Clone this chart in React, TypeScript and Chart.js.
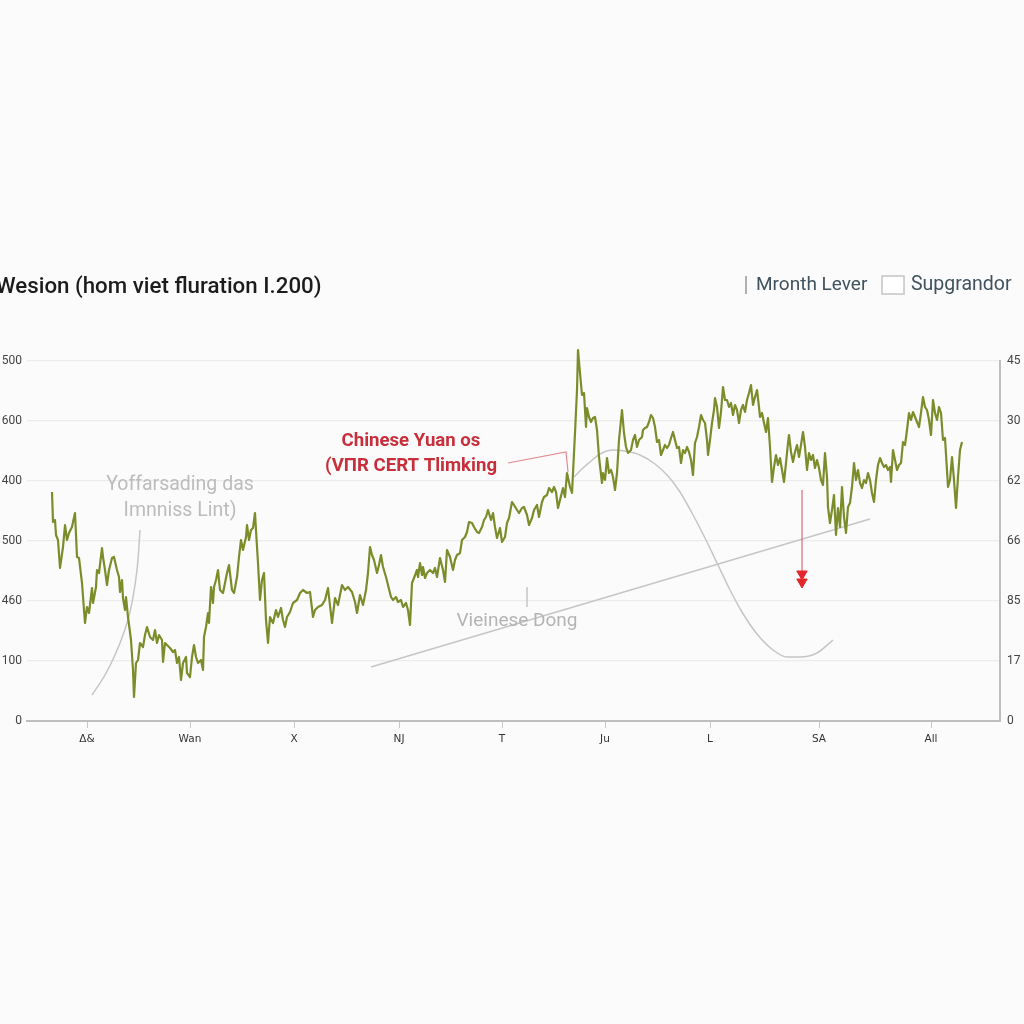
import React, { useEffect, useRef } from "react";
import { Chart, registerables } from "chart.js";

Chart.register(...registerables);

// ---- data (day index along the x axis, rate on the left scale) ----
const days = [
  0, 1, 3, 4, 6, 8, 11, 13, 15, 17, 20, 21, 23, 25, 27, 30, 32, 33, 35, 37,
  40, 41, 44, 45, 47, 50, 51, 53, 55, 57, 60, 62, 65, 67, 68, 70, 71, 73, 74, 76,
  79, 81, 82, 84, 86, 88, 91, 93, 95, 98, 101, 103, 105, 107, 110, 111, 113, 115, 118, 121,
  123, 125, 127, 129, 131, 134, 135, 138, 140, 142, 144, 146, 149, 151, 152, 154, 156, 157, 159, 161,
  162, 164, 166, 168, 171, 173, 175, 177, 180, 182, 185, 187, 189, 191, 194, 195, 197, 199, 201, 203,
  205, 206, 208, 210, 212, 214, 216,
  218, 221, 224, 226, 229, 231, 233, 235, 238, 241, 245, 248, 251, 255, 258, 261, 263, 266, 270, 273,
  276, 280, 283, 286, 290, 293, 296, 300, 303, 305, 308, 311, 314, 316, 318, 320, 322, 325, 327, 329,
  331, 334, 336, 339, 341, 344, 346, 349, 351, 354, 356, 358, 360, 362, 365, 366, 368, 370, 371, 373,
  375, 378, 381, 383, 385, 388, 391, 393, 395, 398, 401, 403, 405, 408, 410, 413, 415, 417, 420, 422,
  425, 427, 430, 432, 434, 436, 439, 441, 443, 445, 448, 450, 453, 455, 457, 460, 462, 465, 467, 470,
  472, 475, 477, 480, 482, 485, 487, 490, 492, 495, 497, 500, 502, 504, 506, 508, 511, 513,
  515, 518, 520, 523, 525, 526, 528, 530, 532, 534, 535, 537, 539, 541, 543, 545, 547, 550, 551, 553,
  555, 557, 559, 561, 563, 565, 567, 570, 572, 574, 576, 579, 581, 583, 585, 587, 590, 591, 593, 595,
  597, 599, 601, 603, 605, 607, 609, 611, 613, 615, 617, 619, 621, 623, 625, 627, 629, 631, 633, 635,
  637, 639, 641, 643, 645, 647, 649, 651, 653, 655, 656, 658, 660, 662, 663, 665, 667, 669, 671, 673,
  675, 677, 679, 681, 683, 685, 687, 689, 691, 693, 695, 697, 699, 701, 703, 705, 707,
  708, 710, 712, 714, 716, 718, 720, 722, 724, 726, 728, 730, 732, 734, 736, 737, 739, 741, 743, 745,
  747, 749, 751, 753, 755, 757, 759, 761, 763, 765, 767, 769, 771, 773, 775, 776, 778, 780, 782, 784,
  786, 788, 790, 792, 794, 796, 798, 800, 802, 804, 806, 808, 810, 812, 814, 816, 818, 820, 822, 824,
  826, 828, 830, 832, 834, 836, 838, 839, 841, 843, 845, 847, 849, 851, 853, 855, 857, 859, 861, 863,
  865, 867, 869, 871, 873, 875, 877, 879, 881, 883, 885, 887, 889, 891, 893, 896, 898, 900, 902, 904,
  906, 908, 910,
];

const rates = [
  229, 199, 201, 186, 181, 153, 174, 196, 181, 188, 194, 199, 208, 164, 163, 138, 111, 98, 114, 108,
  133, 118, 134, 151, 148, 173, 164, 151, 136, 151, 163, 164, 151, 144, 129, 141, 123, 111, 124, 104,
  81, 51, 24, 58, 61, 78, 74, 86, 94, 84, 81, 91, 78, 86, 81, 59, 78, 76, 73, 69,
  71, 58, 64, 41, 58, 64, 48, 44, 64, 76, 64, 58, 61, 51, 84, 94, 108, 98, 134, 118,
  134, 141, 151, 131, 128, 138, 148, 156, 131, 128, 144, 164, 181, 171, 184, 196, 181, 191, 193, 208,
  174, 158, 121, 141, 148, 101, 78,
  104, 98, 111, 104, 113, 101, 94, 104, 109, 118, 121, 128, 131, 128, 129, 104, 111, 114, 116, 121,
  133, 98, 123, 116, 136, 131, 134, 129, 119, 108, 126, 116, 131, 148, 174, 166, 161, 148, 156, 166,
  154, 144, 136, 124, 121, 124, 119, 121, 114, 118, 111, 96, 138, 143, 151, 144, 158, 146, 154, 143,
  148, 151, 148, 153, 144, 163, 151, 139, 171, 164, 151, 161, 166, 168, 181, 184, 189, 199, 198, 194,
  189, 188, 194, 201, 204, 211, 201, 208, 194, 183, 193, 179, 184, 198, 203, 219, 216, 211, 208, 213,
  214, 206, 196, 203, 211, 216, 204, 219, 224, 226, 233, 229, 234, 229, 213, 221, 233, 224,
  248, 234, 228, 288, 331, 371, 348, 326, 328, 294, 313, 304, 299, 303, 304, 291, 264, 238, 248, 241,
  263, 248, 251, 244, 231, 248, 281, 311, 288, 274, 268, 271, 281, 286, 274, 281, 284, 291, 293, 294,
  299, 306, 303, 294, 279, 281, 266, 271, 276, 273, 276, 283, 289, 281, 273, 274, 258, 271, 268, 274,
  269, 261, 246, 278, 284, 294, 306, 301, 298, 281, 266, 281, 298, 311, 323, 314, 293, 309, 334, 321,
  321, 314, 318, 306, 316, 311, 298, 311, 316, 309, 321, 328, 336, 316, 324, 331, 314,
  304, 308, 298, 289, 303, 274, 239, 254, 266, 256, 263, 251, 239, 258, 278, 286, 269, 259, 269, 276,
  264, 276, 289, 274, 251, 268, 261, 266, 253, 261, 253, 241, 236, 268, 244, 214, 198, 211, 226, 186,
  213, 194, 234, 204, 188, 214, 218, 234, 258, 241, 251, 238, 233, 241, 238, 248, 241, 228, 219, 241,
  256, 263, 258, 254, 256, 251, 254, 239, 271, 261, 251, 256, 258, 279, 276, 291, 308, 301, 309, 304,
  299, 294, 308, 324, 314, 311, 301, 286, 321, 308, 301, 314, 308, 281, 283, 234, 241, 264, 241, 213,
  244, 271, 279,
];

const xTickDays = [35, 138, 242, 347, 450, 553, 658, 767, 879];
const xTickLabels = ["Δ&", "Wan", "X", "NJ", "T", "Ju", "L", "SA", "All"];
const leftTickLabels = ["0", "100", "460", "500", "400", "600", "500"];
const rightTickLabels = ["0", "17", "85", "66", "62", "30", "45"];

const trendDays = [319, 818];
const trendValues = [54, 202];
const leftCurveDays = [40, 53, 63, 71, 78, 83, 86, 88];
const leftCurveValues = [26, 46, 66, 86, 109, 136, 161, 191];
const waveDays = [522, 531, 538, 548, 561, 573, 588, 603, 616, 628, 640, 653, 666, 678, 690, 705, 721, 735, 748, 765, 781];
const waveValues = [244, 253, 259, 267, 271, 270, 266, 257, 245, 229, 208, 183, 156, 131, 109, 87, 71, 64, 64, 68, 81];
const connectorDays = [456, 514, 516];
const connectorValues = [258, 269, 249];
const arrowDays = [750, 750];
const arrowValues = [231, 147];
const arrowHeadDays = [750, 750];
const arrowHeadValues = [147, 139];
const dongTickDays = [475, 475];
const dongTickValues = [134, 114];

const titleText = "Wesion (hom viet fluration I.200)";
const legendLabels = ["Mronth Lever", "Supgrandor"];
const noteRed = ["Chinese Yuan os", "(VΠR CERT Tlimking"];
const noteGrey = ["Yoffarsading das", "Imnniss Lint)"];
const noteDong = ["Vieinese Dong"];

const pts = (xs: number[], ys: number[]) => xs.map((x, i) => ({ x, y: ys[i] }));

const decorPlugin = {
  id: "decor",
  beforeDraw(chart: any) {
    const { ctx, width, height } = chart;
    ctx.save();
    ctx.fillStyle = "#fbfbfb";
    ctx.fillRect(0, 0, width, height);
    ctx.restore();
  },
  afterDatasetsDraw(chart: any) {
    const { ctx } = chart;
    const xs = chart.scales.x;
    const ys = chart.scales.y;
    const drawNote = (lines: string[], day: number, val: number, font: string, color: string, gap: number) => {
      const cx = xs.getPixelForValue(day);
      const cy = ys.getPixelForValue(val);
      ctx.save();
      ctx.font = font;
      ctx.fillStyle = color;
      ctx.textAlign = "center";
      ctx.textBaseline = "middle";
      lines.forEach((l, i) => ctx.fillText(l, cx, cy + i * gap));
      ctx.restore();
    };
    drawNote(noteRed, 359, 280, "bold 18.6px Roboto", "#c72f3b", 25);
    drawNote(noteGrey, 128, 236, "19.5px Roboto", "#bcbcbc", 26);
    drawNote(noteDong, 465, 100, "19px Roboto", "#b4b4b4", 24);
  },
  afterDraw(chart: any) {
    const { ctx } = chart;
    ctx.save();
    // title
    ctx.font = "500 22.3px Roboto";
    ctx.fillStyle = "#1c1c1c";
    ctx.textBaseline = "middle";
    ctx.textAlign = "left";
    ctx.fillText(titleText, -4, 287);
    // legend
    ctx.strokeStyle = "#b0b0b0";
    ctx.lineWidth = 2;
    ctx.beginPath();
    ctx.moveTo(746, 276);
    ctx.lineTo(746, 294);
    ctx.stroke();
    ctx.font = "19px Roboto";
    ctx.fillStyle = "#41535f";
    ctx.fillText(legendLabels[0], 756, 285);
    ctx.fillStyle = "#ffffff";
    ctx.fillRect(882, 276, 22, 18);
    ctx.strokeStyle = "#c4c4c4";
    ctx.lineWidth = 1.5;
    ctx.strokeRect(882, 276, 22, 18);
    ctx.fillStyle = "#41535f";
    ctx.font = "19.5px Roboto";
    ctx.fillText(legendLabels[1], 911, 285);
    ctx.restore();
  },
};

export default function App() {
  const ref = useRef<HTMLCanvasElement | null>(null);

  useEffect(() => {
    if (!ref.current) return;
    const grey = "#c6c6c6";
    const chart = new Chart(ref.current, {
      type: "line",
      data: {
        datasets: [
          {
            label: "rate",
            data: pts(days, rates),
            borderColor: "#7b8d2a",
            borderWidth: 2.2,
            pointRadius: 0,
            tension: 0,
            borderJoinStyle: "round",
            clip: false,
          },
          {
            label: "arrowHead",
            data: pts(arrowHeadDays, arrowHeadValues),
            showLine: false,
            pointStyle: "triangle",
            rotation: 180,
            pointRadius: 6,
            backgroundColor: "#e2262b",
            borderColor: "#e2262b",
            borderWidth: 1,
          },
          {
            label: "arrow",
            data: pts(arrowDays, arrowValues),
            borderColor: "#e06c72",
            borderWidth: 1.2,
            pointRadius: 0,
          },
          {
            label: "connector",
            data: pts(connectorDays, connectorValues),
            borderColor: "#e48a90",
            borderWidth: 1.2,
            pointRadius: 0,
          },
          {
            label: "dongTick",
            data: pts(dongTickDays, dongTickValues),
            borderColor: grey,
            borderWidth: 1.5,
            pointRadius: 0,
          },
          {
            label: "wave",
            data: pts(waveDays, waveValues),
            borderColor: grey,
            borderWidth: 1.5,
            pointRadius: 0,
            cubicInterpolationMode: "monotone",
          },
          {
            label: "leftCurve",
            data: pts(leftCurveDays, leftCurveValues),
            borderColor: grey,
            borderWidth: 1.5,
            pointRadius: 0,
            cubicInterpolationMode: "monotone",
          },
          {
            label: "trend",
            data: pts(trendDays, trendValues),
            borderColor: grey,
            borderWidth: 1.5,
            pointRadius: 0,
          },
        ],
      },
      options: {
        responsive: false,
        maintainAspectRatio: false,
        animation: false,
        devicePixelRatio: 1,
        layout: { padding: { top: 361, left: 0, right: 0, bottom: 0 } },
        plugins: {
          legend: { display: false },
          title: { display: false },
          tooltip: { enabled: false },
        },
        scales: {
          x: {
            type: "linear",
            min: -25,
            max: 948,
            afterFit: (s: any) => {
              s.height = 303;
            },
            afterBuildTicks: (s: any) => {
              s.ticks = xTickDays.map((v) => ({ value: v }));
            },
            ticks: {
              callback: (_v: any, i: number) => xTickLabels[i],
              autoSkip: false,
              maxRotation: 0,
              padding: 5,
              color: "#333333",
              font: { family: "DejaVu Sans", size: 10.5 },
            },
            grid: {
              drawOnChartArea: false,
              drawTicks: true,
              tickLength: 7,
              color: "#c8c8c8",
              lineWidth: 1,
            },
            border: { display: true, color: "#bfbfbf", width: 2 },
          },
          y: {
            type: "linear",
            position: "left",
            min: 0,
            max: 360,
            afterFit: (s: any) => {
              s.width = 27;
            },
            ticks: {
              stepSize: 60,
              callback: (_v: any, i: number) => leftTickLabels[i],
              padding: 5,
              color: "#444444",
              font: { family: "Roboto", size: 12 },
            },
            grid: { color: "#ececec", lineWidth: 1.2, drawTicks: false },
            border: { display: false },
          },
          y2: {
            type: "linear",
            position: "right",
            min: 0,
            max: 360,
            afterFit: (s: any) => {
              s.width = 24;
            },
            ticks: {
              stepSize: 60,
              callback: (_v: any, i: number) => rightTickLabels[i],
              padding: 7,
              color: "#444444",
              font: { family: "Roboto", size: 12 },
            },
            grid: { display: false, drawTicks: false },
            border: { display: true, color: "#bdbdbd", width: 2 },
          },
        },
      },
      plugins: [decorPlugin],
    } as any);
    return () => chart.destroy();
  }, []);

  return (
    <div style={{ position: "absolute", left: 0, top: 0, width: 1024, height: 1024 }}>
      <canvas ref={ref} width={1024} height={1024} style={{ display: "block" }} />
    </div>
  );
}
